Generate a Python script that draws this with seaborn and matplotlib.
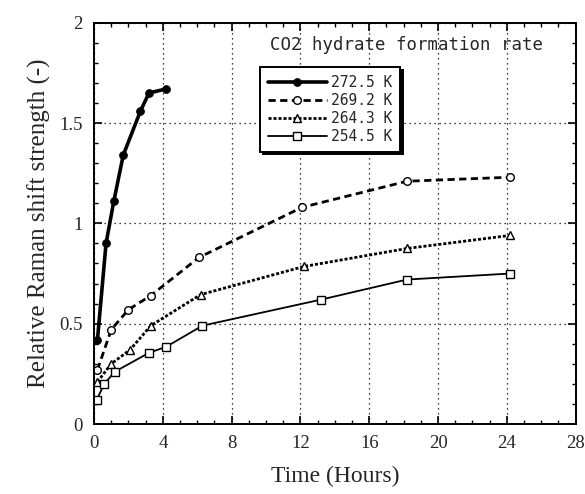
import numpy as np
import pandas as pd
import seaborn as sns
import matplotlib.pyplot as plt
from matplotlib.ticker import MultipleLocator

t_2725 = [0.2, 0.7, 1.15, 1.7, 2.7, 3.2, 4.2]
r_2725 = [0.42, 0.90, 1.11, 1.34, 1.56, 1.65, 1.67]

t_2692 = [0.2, 1.0, 2.0, 3.3, 6.1, 12.1, 18.2, 24.2]
r_2692 = [0.27, 0.47, 0.57, 0.64, 0.83, 1.08, 1.21, 1.23]

t_2643 = [0.2, 1.0, 2.1, 3.3, 6.2, 12.2, 18.2, 24.2]
r_2643 = [0.21, 0.30, 0.37, 0.49, 0.645, 0.785, 0.875, 0.94]

t_2545 = [0.15, 0.6, 1.2, 3.2, 4.2, 6.3, 13.2, 18.2, 24.2]
r_2545 = [0.12, 0.20, 0.26, 0.355, 0.385, 0.49, 0.62, 0.72, 0.75]

labels = ["272.5 K", "269.2 K", "264.3 K", "254.5 K"]

sns.set_style("ticks")
plt.rcParams['font.family'] = ['Liberation Serif', 'DejaVu Serif']

fig = plt.figure(figsize=(5.85, 4.94), dpi=100)
ax = fig.add_axes([0.1607, 0.1417, 0.8233, 0.8123])

sns.lineplot(x=t_2725, y=r_2725, ax=ax, estimator=None, color="black", lw=2.6,
             marker="o", ms=5.5, mfc="black", mec="black", label=labels[0])
sns.lineplot(x=t_2692, y=r_2692, ax=ax, estimator=None, color="black", lw=2.0,
             linestyle=(0, (2.6, 1.6)), marker="o", ms=5.5, mfc="white", mec="black",
             mew=1.0, label=labels[1])
sns.lineplot(x=t_2643, y=r_2643, ax=ax, estimator=None, color="black", lw=2.0,
             linestyle=(0, (1.1, 0.7)), marker="^", ms=5.5, mfc="white", mec="black",
             mew=1.0, label=labels[2])
sns.lineplot(x=t_2545, y=r_2545, ax=ax, estimator=None, color="black", lw=1.3,
             marker="s", ms=5.5, mfc="white", mec="black", mew=1.0, label=labels[3])

ax.set_xlim(0, 28)
ax.set_ylim(0, 2)
ax.xaxis.set_major_locator(MultipleLocator(4))
ax.xaxis.set_minor_locator(MultipleLocator(1))
ax.yaxis.set_major_locator(MultipleLocator(0.5))
ax.yaxis.set_minor_locator(MultipleLocator(0.1))
ax.set_yticks([0, 0.5, 1, 1.5, 2])
ax.set_yticklabels(["0", "0.5", "1", "1.5", "2"])
ax.tick_params(which="both", direction="in", top=True, right=True, color="black")
ax.tick_params(which="major", length=6, width=1.2, labelsize=13.5, pad=8)
ax.tick_params(which="minor", length=3, width=1.0)
ax.grid(True, which="major", color="black", linestyle=(0, (1, 3)), lw=0.9)
for s in ax.spines.values():
    s.set_linewidth(1.4)
    s.set_color("black")

ax.set_xlabel("Time (Hours)", fontsize=17, labelpad=10)
ax.set_ylabel("Relative Raman shift strength (-)", fontsize=18, labelpad=6)

ax.text(0.365, 0.945, "CO2 hydrate formation rate", transform=ax.transAxes,
        family="DejaVu Sans Mono", fontsize=12.5, va="center", ha="left")

leg = ax.legend(loc="upper left", bbox_to_anchor=(0.345, 0.89), frameon=True,
                fancybox=False, shadow={"color": "black", "alpha": 1},
                prop={"family": "DejaVu Sans Mono", "size": 10.5},
                handlelength=4.0, handletextpad=0.3, labelspacing=0.2,
                borderpad=0.55, borderaxespad=0)
leg.get_frame().set_edgecolor("black")
leg.get_frame().set_linewidth(1.4)
leg.get_frame().set_alpha(1)

fig.savefig("out.png", dpi=100)
